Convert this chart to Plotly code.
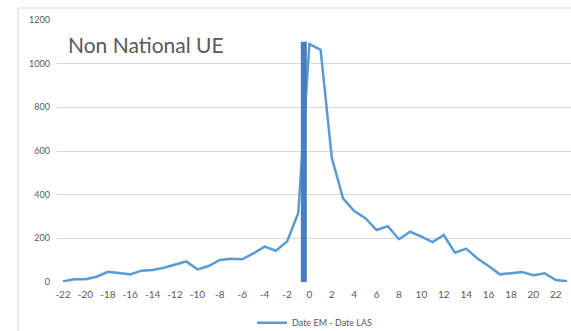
import plotly.graph_objects as go

days = list(range(-22, 24))
counts = [2, 13, 13, 24, 47, 42, 35, 52, 55, 65, 79, 94,
          58, 73, 101, 107, 104, 131, 162, 143, 185, 315,
          1090, 1063, 569, 383, 325, 292, 238, 256, 196, 230,
          208, 183, 215, 134, 153, 108, 73, 35, 40, 46, 31, 40, 9, 3]
series_name = "Date EM - Date LAS"
title_text = "Non National UE"
marker_x = [-0.5, -0.5]
marker_y = [-37, 1100]
y_ticks = [0, 200, 400, 600, 800, 1000, 1200]
x_ticks = list(range(-22, 23, 2))
x_tick_labels = [str(v) for v in x_ticks]

fig = go.Figure()
fig.add_trace(go.Scatter(x=days, y=counts, mode="lines", name=series_name,
                         line=dict(color="#5B9BD5", width=2.5)))
fig.add_trace(go.Scatter(x=marker_x, y=marker_y, mode="lines", showlegend=False,
                         line=dict(color="#4A7EBB", width=6), cliponaxis=False,
                         hoverinfo="skip"))

fig.add_shape(type="rect", xref="paper", yref="paper",
              x0=-0.0759, x1=1.05, y0=-0.3, y1=1.0458,
              line=dict(color="#D9D9D9", width=1), fillcolor="rgba(0,0,0,0)",
              layer="below")

fig.add_annotation(text=title_text, xref="paper", yref="paper",
                   x=(66 - 57) / 514, y=1 - (44 - 20) / 262,
                   xanchor="left", yanchor="middle", showarrow=False,
                   font=dict(family="Lato", size=21, color="#595959"))

fig.update_layout(
    width=571, height=331,
    margin=dict(l=57, r=0, t=20, b=49, autoexpand=False),
    paper_bgcolor="white", plot_bgcolor="white",
    font=dict(family="Lato", size=10, color="#595959"),
    showlegend=True,
    legend=dict(orientation="h", x=0.502, y=-0.156, xanchor="center",
                yanchor="middle", font=dict(size=9, color="#595959"),
                bgcolor="rgba(0,0,0,0)"),
)
fig.update_xaxes(range=[-22.54, 23.36], tickvals=x_ticks, ticktext=x_tick_labels,
                 showgrid=False, zeroline=False, showline=False, ticks="",
                 ticklabelstandoff=5,
                 tickfont=dict(size=10, color="#595959"))
fig.update_yaxes(range=[0, 1200], tickvals=y_ticks, showgrid=True,
                 gridcolor="#D9D9D9", gridwidth=1, zeroline=False,
                 showline=False, ticks="", ticklabelstandoff=6,
                 tickfont=dict(size=9, color="#595959"))

fig.write_html("out.html", config={"displayModeBar": False},
               post_script="document.body.style.margin='0';document.body.style.padding='0';")
